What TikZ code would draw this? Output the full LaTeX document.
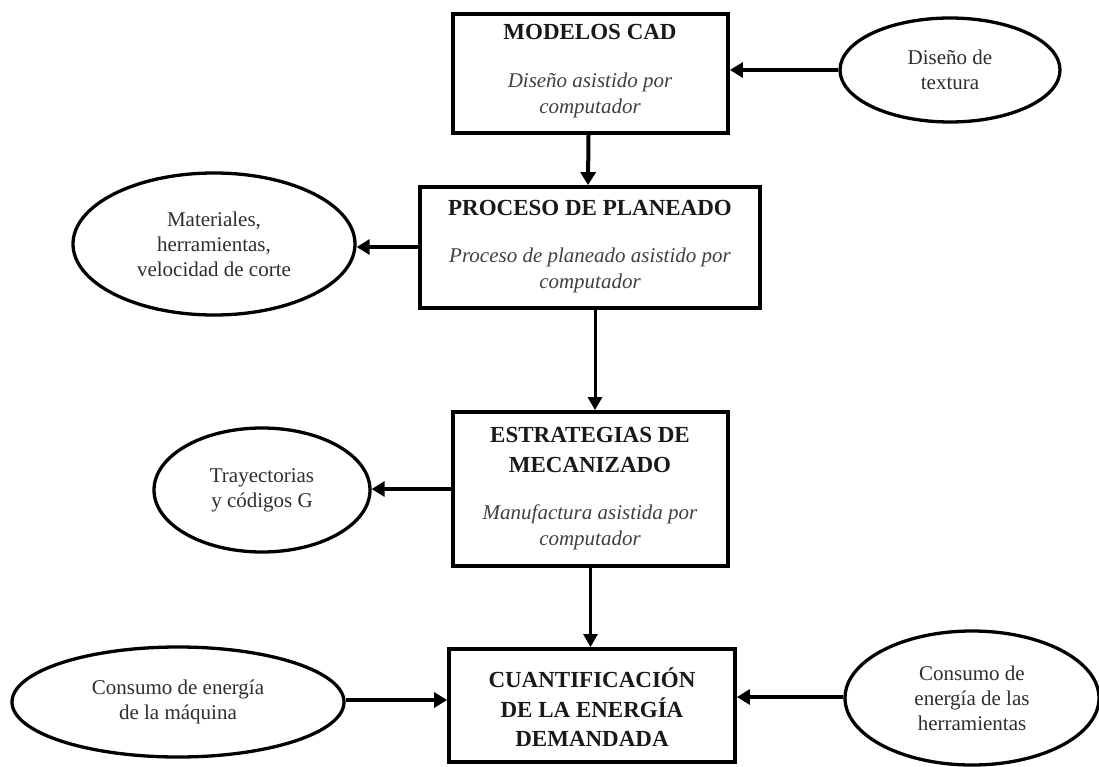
\documentclass[tikz,border=0pt]{standalone}
\usepackage{fontspec}
\setmainfont{Liberation Serif}
\usetikzlibrary{arrows.meta,shapes.geometric}
\begin{document}
\begin{tikzpicture}[x=1pt,y=-1pt,
  boxn/.style={draw=black, line width=3.8pt, rectangle, inner sep=0pt},
  elln/.style={draw=black, line width=3.3pt, ellipse, inner sep=0pt, align=center,
               text=black!82, font=\fontsize{21}{25}\selectfont},
  ttl/.style={inner sep=0pt, align=center, text=black!90, font=\bfseries\fontsize{23}{29.5}\selectfont},
  itl/.style={inner sep=0pt, align=center, text=black!75, font=\itshape\fontsize{21}{26}\selectfont},
  arr/.style={line width=4pt, -{Triangle[length=13pt,width=15pt]}},
  arrt/.style={line width=3pt, -{Triangle[length=13pt,width=14pt]}}
]
\useasboundingbox (0,0) rectangle (1099,767);
\fill[white] (0,0) rectangle (1099,767);

% boxes
\node[boxn, minimum width=275pt, minimum height=119pt] (b1) at (590.5,73.5) {};
\node[boxn, minimum width=340pt, minimum height=121pt] (b2) at (590,247.5) {};
\node[boxn, minimum width=275pt, minimum height=154pt] (b3) at (590.5,489) {};
\node[boxn, minimum width=286pt, minimum height=113pt] (b4) at (592,705.5) {};

% box texts
\node[ttl] (t1) at (590,32) {MODELOS CAD};
\node[itl] (i1) at (590,95) {Diseño asistido por\\computador};
\node[ttl] (t2) at (590,208) {PROCESO DE PLANEADO};
\node[itl] (i2) at (590,270) {Proceso de planeado asistido por\\computador};
\node[ttl] (t3) at (590,450) {ESTRATEGIAS DE\\MECANIZADO};
\node[itl] (i3) at (590,527.5) {Manufactura asistida por\\computador};
\node[ttl] (t4) at (592,707.5) {CUANTIFICACIÓN\\DE LA ENERGÍA\\DEMANDADA};

% ellipses
\node[elln, minimum width=220pt, minimum height=104pt] (e0) at (950,70) {Diseño de\\textura};
\node[elln, minimum width=282pt, minimum height=142pt] (ea) at (214,244) {Materiales,\\herramientas,\\velocidad de corte};
\node[elln, minimum width=216pt, minimum height=124pt] (eb) at (262,490) {Trayectorias\\y códigos G};
\node[elln, minimum width=332pt, minimum height=110pt] (ec) at (178,702) {Consumo de energía\\de la máquina};
\node[elln, minimum width=254pt, minimum height=134pt] (ed) at (972,698) {Consumo de\\energía de las\\herramientas};

% connectors
\draw[arr] (e0.west) -- (e0.west -| b1.east);
\draw[arr] ([xshift=-2pt]b1.south) -- ([xshift=-2pt]b2.north);
\draw[arr] ([yshift=0.5pt]b2.west) -- ([yshift=0.5pt]b2.west -| ea.east);
\draw[arrt] ([xshift=5pt]b2.south) -- ([xshift=4.5pt]b3.north);
\draw[arr] (b3.west) -- (b3.west -| eb.east);
\draw[arrt] (b3.south) -- (b3.south |- b4.north);
\draw[arr] ([yshift=2pt]ec.east) -- ([yshift=2pt]ec.east -| b4.west);
\draw[arr] ([yshift=1pt]ed.west) -- ([yshift=1pt]ed.west -| b4.east);
\end{tikzpicture}
\end{document}
